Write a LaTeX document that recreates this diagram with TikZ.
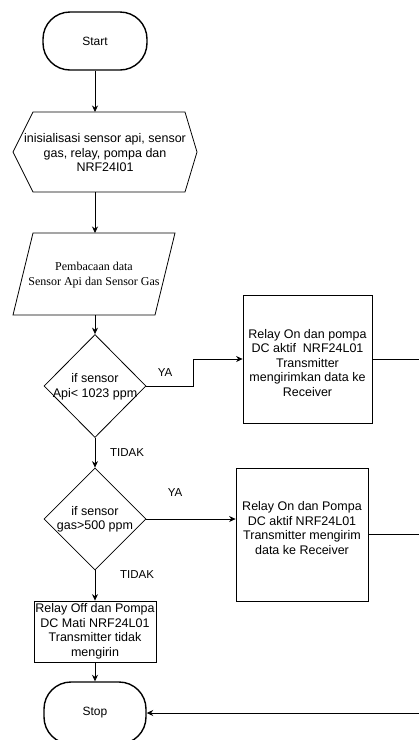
\documentclass[tikz,border=0pt]{standalone}
\usepackage{fontspec}
\setmainfont{Liberation Sans}
\newfontfamily\serifface{Liberation Serif}
\usetikzlibrary{shapes.geometric,arrows.meta}
\begin{document}
\begin{tikzpicture}[x=1pt,y=-1pt,
  txt/.style={align=center,font=\fontsize{12.5}{14.5}\selectfont,inner sep=0pt},
  lbl/.style={font=\fontsize{11.5}{13}\selectfont,inner sep=0pt},
  procbox/.style={draw,line width=0.8pt,inner sep=0pt},
  term/.style={draw,line width=1.4pt,rounded corners=27pt,inner sep=0pt,minimum width=104pt,
    font=\fontsize{12}{14}\selectfont},
  dec/.style={draw,diamond,line width=0.8pt,inner sep=0pt,minimum width=102pt,minimum height=103pt},
  flow/.style={line width=0.8pt,-{Stealth[length=6.5pt,width=6pt]}},
  wire/.style={line width=0.8pt}
]
% canvas
\fill[white] (0,0) rectangle (419,740);
\useasboundingbox (0,0) rectangle (419,740);
\clip (0,0) rectangle (419,740);

% start terminal
\node[term,minimum height=58pt] (start) at (95,41) {Start};

% initialisation (hexagon)
\draw[wire] (33,112) -- (185,112) -- (197,152) -- (185,192) -- (33,192) -- (13,152) -- cycle;
\node[txt] (init) at (105,153) {inisialisasi sensor api, sensor\\gas, relay, pompa dan\\NRF24I01};
\coordinate (initTop) at (95,112);
\coordinate (initBot) at (95,192);

% data input (parallelogram)
\draw[wire] (33,233) -- (175,233) -- (155,315) -- (13,315) -- cycle;
\node[txt,font=\serifface\fontsize{12}{15}\selectfont] (data) at (94,275.5) {Pembacaan data\\Sensor Api dan Sensor Gas};
\coordinate (dataTop) at (95,233);
\coordinate (dataBot) at (95,315);

% decisions
\node[dec] (d1) at (95,386) {};
\node[txt] (d1t) at (95,387) {if sensor\\Api< 1023 ppm};
\node[dec,minimum height=102pt] (d2) at (95,519) {};
\node[txt] (d2t) at (95,519.5) {if sensor\\gas>500 ppm};

% process boxes
\node[procbox,minimum width=129pt,minimum height=128pt] (box1) at (307.5,359) {};
\node[txt] (box1t) at (307.5,363) {Relay On dan pompa\\DC aktif\ \ NRF24L01\\Transmitter\\mengirimkan data ke\\Receiver};
\node[procbox,minimum width=132pt,minimum height=133pt] (box2) at (302,534.5) {};
\node[txt] (box2t) at (302,528) {Relay On dan Pompa\\DC aktif NRF24L01\\Transmitter mengirim\\data ke Receiver};
\node[procbox,minimum width=122pt,minimum height=61pt] (box3) at (95,631.5) {};
\node[txt] (box3t) at (95,631.5) {Relay Off dan Pompa\\DC Mati NRF24L01\\Transmitter tidak\\mengirin};

% stop terminal
\node[term,minimum width=102pt,minimum height=62pt] (stop) at (95,713) {Stop};

% main column connectors
\draw[flow] (start.south) -- (initTop);
\draw[flow] (initBot) -- (dataTop);
\draw[flow] (dataBot) -- (d1.north);
\draw[flow] (d1.south) -- (d2.north);
\draw[flow] (d2.south) -- (box3.north);
\draw[flow] (box3.south) -- (stop.north);

% YES branches
\coordinate (k1) at (193,0);
\draw[flow] (d1.east) -- (d1.east -| k1) -- (k1 |- box1.west) -- (box1.west);
\draw[flow] (d2.east) -- (d2.east -| box2.west);

% return lines to stop
\coordinate (r1) at (419,359);
\coordinate (r2) at (419,534.5);
\coordinate (r3) at (419,713);
\draw[wire] (box1.east) -- (r1);
\draw[wire] (box2.east) -- (r2);
\draw[flow] (r3) -- (stop.east);

% branch labels
\node[lbl] (ya1) at (165,373) {YA};
\node[lbl] (ya2) at (175,493) {YA};
\node[lbl] (no1) at (127,453) {TIDAK};
\node[lbl] (no2) at (137,575) {TIDAK};
\end{tikzpicture}
\end{document}
